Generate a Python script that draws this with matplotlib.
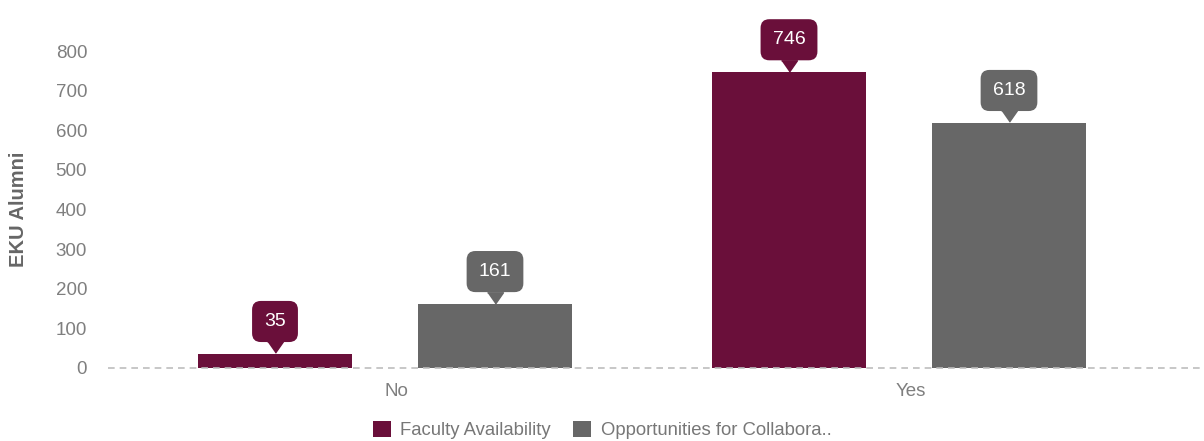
import matplotlib
matplotlib.use("Agg")
import matplotlib.pyplot as plt
import matplotlib.transforms as mtransforms
import numpy as np

categories = ["No", "Yes"]
series_names = ["Faculty Availability", "Opportunities for Collabora.."]
faculty = [35, 746]
collab = [161, 618]
colors = ["#6A0F3A", "#676767"]

plt.rcParams['font.family'] = ['Liberation Sans', 'DejaVu Sans']

fig = plt.figure(figsize=(12.04, 4.41), dpi=100)
ax = fig.add_axes([108/1204, 73/441, 1 - 108/1204, 368/441])

x = np.arange(len(categories))
width = 0.30
offset = 0.214
bars1 = ax.bar(x - offset, faculty, width, color=colors[0], label=series_names[0], zorder=3)
bars2 = ax.bar(x + offset, collab, width, color=colors[1], label=series_names[1], zorder=3)

ax.set_xlim((108 - 385) / 514, (1204 - 385) / 514)
ax.set_ylim(0, 368 / 317 * 800)
ax.set_yticks(range(0, 801, 100))
ax.set_xticks(x + 0.022)
ax.set_xticklabels(categories)
ax.tick_params(axis='both', length=0, colors='#7f7f7f', labelsize=13.5)
ax.tick_params(axis='x', pad=11)
ax.tick_params(axis='y', pad=15)
for s in ax.spines.values():
    s.set_visible(False)
ax.axhline(0, color='#bdbdbd', lw=1.2, ls=(0, (4, 3)), zorder=4, clip_on=False)

ax.set_ylabel("EKU Alumni", fontsize=14.5, fontweight='bold', color='#666666')
ax.yaxis.set_label_coords((28 - 108) / 1096, (368 - 209) / 368)

tri = [(-0.7, 0.5), (0.7, 0.5), (0, -0.5)]
mk_trans = mtransforms.offset_copy(ax.transData, fig=fig, x=0, y=4.8, units='points')
for bars, vals, c in [(bars1, faculty, colors[0]), (bars2, collab, colors[1])]:
    for b, v in zip(bars, vals):
        cx = b.get_x() + b.get_width() / 2
        ax.annotate(str(v), xy=(cx, v), xytext=(0, 23.5), textcoords='offset points',
                    ha='center', va='center', color='white', fontsize=14,
                    bbox=dict(boxstyle='round,pad=0.62,rounding_size=0.45', fc=c, ec='none'),
                    zorder=6, annotation_clip=False)
        ax.plot([cx], [v], marker=tri, markersize=11.5, color=c, transform=mk_trans,
                zorder=7, clip_on=False, linestyle='none')

leg = fig.legend(handles=[bars1, bars2], labels=series_names, loc='center',
                 bbox_to_anchor=(0.5, 1 - 430/441), ncol=2, frameon=False,
                 fontsize=13.3, handlelength=1.0, handleheight=1.0, handletextpad=0.5,
                 columnspacing=1.2)
for t in leg.get_texts():
    t.set_color('#777777')

fig.savefig("out.png", dpi=100)
